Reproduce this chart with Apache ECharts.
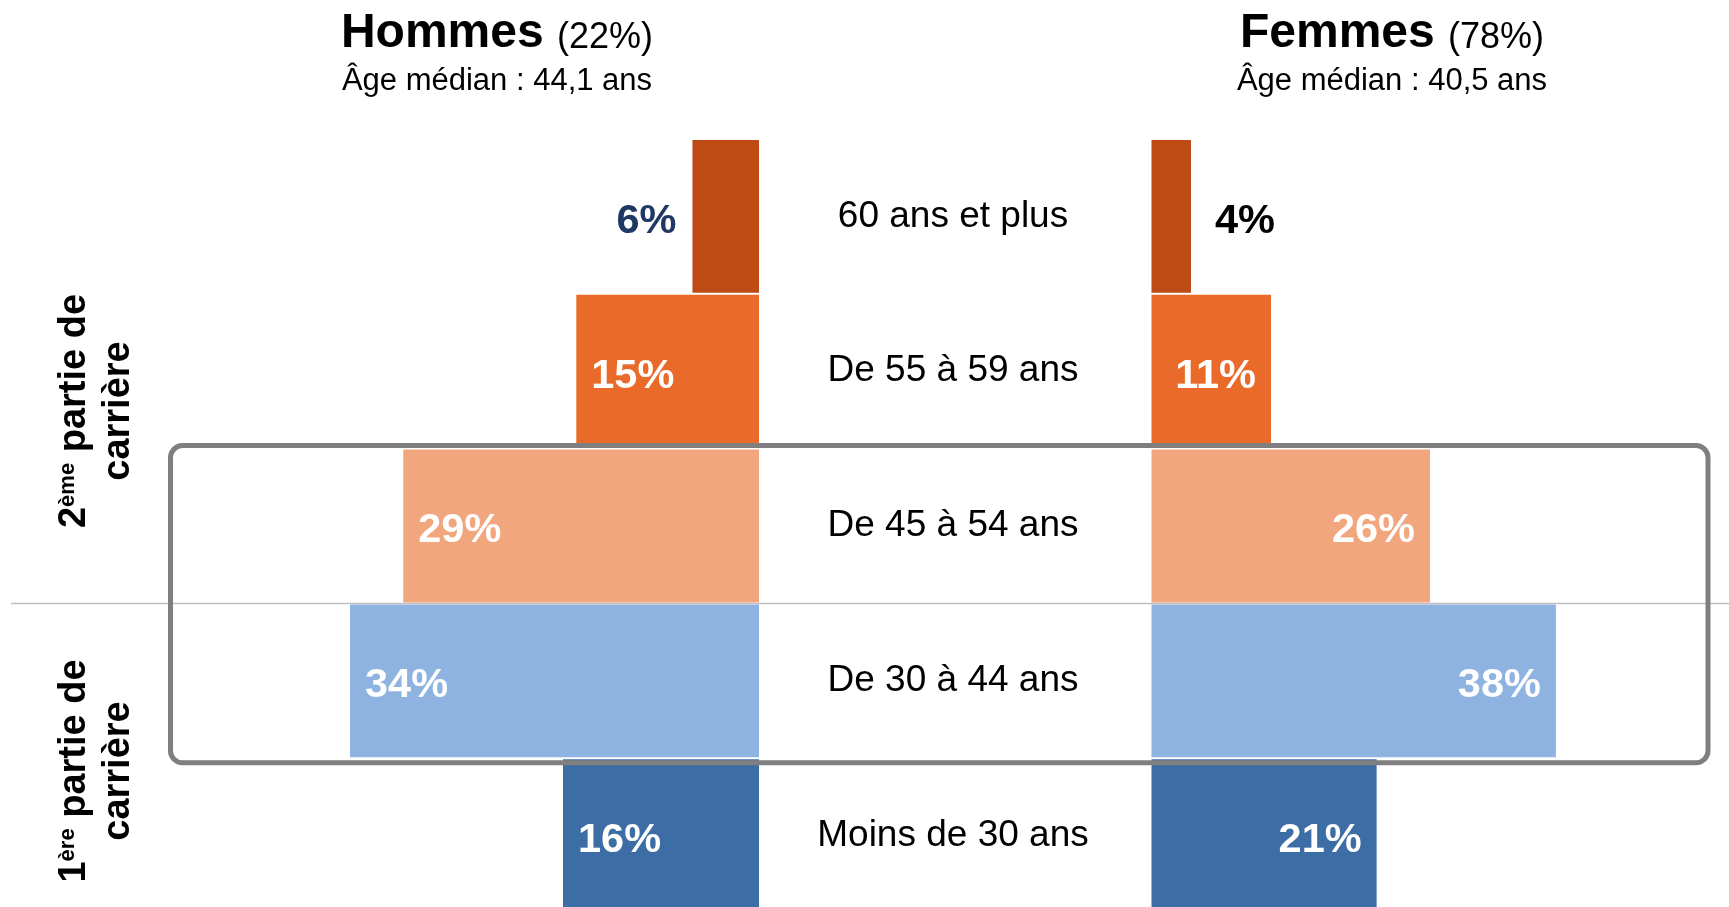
<!DOCTYPE html>
<html><head><meta charset="utf-8">
<script src="https://cdn.jsdelivr.net/npm/echarts@6/dist/echarts.min.js"></script>
<style>html,body{margin:0;padding:0;background:#fff}#c{width:1729px;height:907px}</style>
</head><body><div id="c"></div>
<script>
// ---- data ----
const categories = ['60 ans et plus', 'De 55 à 59 ans', 'De 45 à 54 ans', 'De 30 à 44 ans', 'Moins de 30 ans'];
const hommes = [5.5, 15.1, 29.4, 33.8, 16.2];
const femmes = [3.7, 11.2, 26.1, 37.9, 21.1];
const hommesTitle = 'Hommes', hommesShare = '(22%)', hommesMedian = 'Âge médian : 44,1 ans';
const femmesTitle = 'Femmes', femmesShare = '(78%)', femmesMedian = 'Âge médian : 40,5 ans';
const group2 = ['2', 'ème', ' partie de', 'carrière'];
const group1 = ['1', 'ère', ' partie de', 'carrière'];

// ---- styles ----
const FONT = 'Liberation Sans, Arial, Helvetica, sans-serif';
const barColors = ['#BE4B14', '#EA6A29', '#F2A67E', '#8FB3E1', '#3C6DA4'];

const chart = echarts.init(document.getElementById('c'), null, {renderer: 'canvas'});

function items(vals, outsidePos, outsideColor, outsideDist) {
  return vals.map((v, i) => {
    const it = {value: v, itemStyle: {color: barColors[i]}};
    if (v < 8) it.label = {position: outsidePos, color: outsideColor, distance: outsideDist};
    return it;
  });
}
const pctLabel = {
  show: true, color: '#fff', fontSize: 41.5, fontWeight: 'bold', fontFamily: FONT, offset: [0, 5],
  formatter: p => Math.round(p.value) + '%'
};

chart.setOption({
  animation: false,
  backgroundColor: '#fff',
  grid: [
    {left: 275, right: 970, top: 139, height: 774, outerBoundsMode: 'none'},
    {left: 1151.5, right: 150.7, top: 139, height: 774, outerBoundsMode: 'none'}
  ],
  xAxis: [
    {gridIndex: 0, type: 'value', min: 0, max: 40, inverse: true, show: false},
    {gridIndex: 1, type: 'value', min: 0, max: 40, show: false}
  ],
  yAxis: [
    {gridIndex: 0, type: 'category', data: categories, inverse: true, position: 'right',
     axisLine: {show: false}, axisTick: {show: false}, splitLine: {show: false},
     axisLabel: {margin: 194, align: 'center', fontSize: 37, color: '#000', fontFamily: FONT}},
    {gridIndex: 1, type: 'category', data: categories, inverse: true, show: false}
  ],
  series: [
    {type: 'bar', xAxisIndex: 0, yAxisIndex: 0, barCategoryGap: '1.3%',
     data: items(hommes, 'left', '#1F3864', 16),
     label: Object.assign({position: 'insideLeft', distance: 15}, pctLabel)},
    {type: 'bar', xAxisIndex: 1, yAxisIndex: 1, barCategoryGap: '1.3%',
     data: items(femmes, 'right', '#000', 24),
     label: Object.assign({position: 'insideRight', distance: 15}, pctLabel)}
  ]
});

const c2 = chart.convertToPixel({yAxisIndex: 0}, categories[2]);
const c3 = chart.convertToPixel({yAxisIndex: 0}, categories[3]);
const band = c3 - c2;
const sepY = (c2 + c3) / 2;
const boxTop = c2 - band / 2 - 3;
const boxBottom = c3 + band / 2 + 4.5;

function titleText(x, t, share) {
  return {type: 'text', x: x, y: 32, z: 10,
    style: {text: '{b|' + t + ' }{r|' + share + '}', align: 'center', verticalAlign: 'middle',
      rich: {b: {fontSize: 48, fontWeight: 'bold', fontFamily: FONT, fill: '#000', lineHeight: 52, verticalAlign: 'bottom'},
             r: {fontSize: 36, fontFamily: FONT, fill: '#000', lineHeight: 40, verticalAlign: 'bottom', padding: [0,0,2,0]}}}};
}
function subText(x, t) {
  return {type: 'text', x: x, y: 81, z: 10,
    style: {text: t, align: 'center', verticalAlign: 'middle', fontSize: 31, fontFamily: FONT, fill: '#000'}};
}
function rotText(y, g) {
  return {type: 'text', x: 97, y: y, rotation: Math.PI / 2, z: 10,
    style: {text: '{b|' + g[0] + '}{s|' + g[1] + '}{b|' + g[2] + '}\n{b|' + g[3] + '}',
      align: 'center', verticalAlign: 'middle',
      rich: {b: {fontSize: 38, fontWeight: 'bold', fontFamily: FONT, fill: '#000', lineHeight: 44},
             s: {fontSize: 22, fontWeight: 'bold', fontFamily: FONT, fill: '#000', lineHeight: 44, padding: [0,0,14,0]}}}};
}

chart.setOption({
  graphic: [
    titleText(497, hommesTitle, hommesShare),
    subText(497, hommesMedian),
    titleText(1392, femmesTitle, femmesShare),
    subText(1392, femmesMedian),
    rotText(411, group2),
    rotText(771, group1),
    {type: 'line', z: 50, shape: {x1: 11, y1: sepY, x2: 1729, y2: sepY},
     style: {stroke: '#BFBFBF', lineWidth: 1.5}},
    {type: 'rect', z: 100, shape: {x: 170.5, y: boxTop, width: 1708 - 170.5, height: boxBottom - boxTop, r: 12},
     style: {fill: 'none', stroke: '#7F7F7F', lineWidth: 5}}
  ]
});
</script></body></html>
